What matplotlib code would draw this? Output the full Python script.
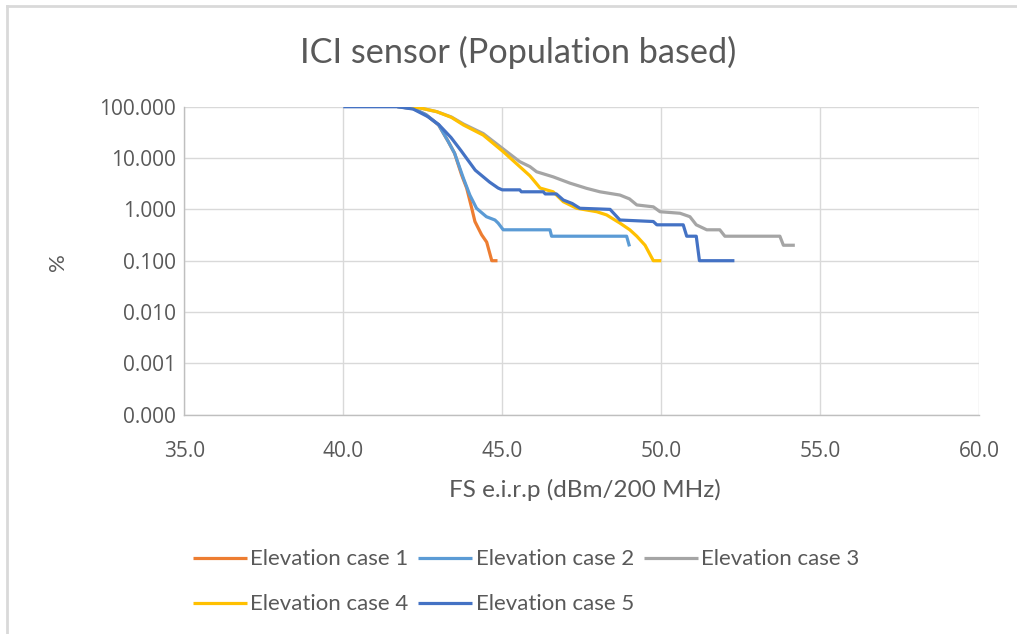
import matplotlib
matplotlib.use("Agg")
import matplotlib.pyplot as plt
from matplotlib.lines import Line2D
from matplotlib.ticker import FixedLocator, FuncFormatter

# Exceedance curves: FS e.i.r.p (dBm/200 MHz) vs percentage of population
case1_x = [41.7, 42.2, 42.6, 43.0, 43.3, 43.5, 43.72, 43.88, 44.04, 44.14, 44.35, 44.51, 44.67, 44.85]
case1_y = [100, 92, 70, 44, 21, 12.4, 4.7, 2.6, 1.05, 0.58, 0.32, 0.23, 0.10, 0.10]

case2_x = [41.7, 42.2, 42.6, 43.0, 43.3, 43.5, 43.78, 43.98, 44.19, 44.5, 44.77, 44.87, 45.03,
           46.5, 46.55, 48.91, 49.0]
case2_y = [100, 92, 70, 44, 21, 12.4, 4.0, 1.9, 1.05, 0.72, 0.62, 0.54, 0.40,
           0.40, 0.30, 0.30, 0.19]

case3_x = [41.9, 42.4, 42.94, 43.4, 43.78, 44.4, 45.14, 45.55, 45.87, 46.08, 46.6, 47.13, 47.65,
           48.07, 48.7, 49.0, 49.23, 49.75, 49.96, 50.59, 50.9, 51.1, 51.43, 51.84, 52.0,
           53.73, 53.84, 54.2]
case3_y = [100, 95, 80, 63, 46, 30, 13.3, 8.5, 6.8, 5.4, 4.3, 3.24, 2.57,
           2.2, 1.9, 1.6, 1.22, 1.12, 0.90, 0.84, 0.72, 0.50, 0.40, 0.40, 0.30,
           0.30, 0.20, 0.20]

case4_x = [41.9, 42.4, 42.94, 43.4, 43.78, 44.4, 45.03, 45.55, 45.87, 46.19, 46.6, 46.92, 47.34,
           47.97, 48.28, 48.7, 49.01, 49.23, 49.49, 49.75, 50.0]
case4_y = [100, 95, 80, 62, 44, 28, 13.3, 6.8, 4.5, 2.6, 2.2, 1.41, 1.05,
           0.90, 0.78, 0.54, 0.40, 0.30, 0.20, 0.10, 0.10]

case5_x = [40.0, 41.7, 42.2, 42.66, 43.0, 43.39, 43.7, 44.15, 44.6, 44.87, 45.0, 45.55, 45.6,
           46.29, 46.35, 46.7, 46.92, 47.2, 47.44, 48.39, 48.7, 49.75, 49.86, 50.69, 50.8,
           51.1, 51.2, 52.3]
case5_y = [100, 100, 90, 64, 45, 25, 14, 5.8, 3.4, 2.6, 2.4, 2.4, 2.2,
           2.2, 2.0, 2.0, 1.52, 1.3, 1.05, 1.0, 0.62, 0.58, 0.50, 0.50, 0.30,
           0.30, 0.10, 0.10]

series_names = ["Elevation case 1", "Elevation case 2", "Elevation case 3",
                "Elevation case 4", "Elevation case 5"]
series_colors = ["#ED7D31", "#5B9BD5", "#A5A5A5", "#FFC000", "#4472C4"]

y_ticks = [0.0001, 0.001, 0.01, 0.1, 1, 10, 100]
x_ticks = [35, 40, 45, 50, 55, 60]

text_color = "#595959"
grid_color = "#D9D9D9"

fig = plt.figure(figsize=(10.17, 6.34), dpi=100)
ax = fig.add_axes([0.1812, 0.3459, 0.7817, 0.4858])

series = [(case1_x, case1_y), (case2_x, case2_y), (case3_x, case3_y),
          (case4_x, case4_y), (case5_x, case5_y)]
handles = []
for (xs, ys), name, col in zip(series, series_names, series_colors):
    h, = ax.plot(xs, ys, color=col, lw=2.3, label=name, solid_capstyle="butt")
    handles.append(h)

ax.set_yscale("log")
ax.set_ylim(0.0001, 100)
ax.set_xlim(35, 60)
ax.yaxis.set_major_locator(FixedLocator(y_ticks))
ax.yaxis.set_minor_locator(FixedLocator([]))
ax.yaxis.set_major_formatter(FuncFormatter(lambda v, p: f"{v:.3f}"))
ax.xaxis.set_major_locator(FixedLocator(x_ticks))
ax.xaxis.set_major_formatter(FuncFormatter(lambda v, p: f"{v:.1f}"))

ax.grid(True, color=grid_color, lw=1.0)
ax.set_axisbelow(True)
for side in ("top", "right"):
    ax.spines[side].set_visible(False)
for side in ("left", "bottom"):
    ax.spines[side].set_color("#BFBFBF")
    ax.spines[side].set_linewidth(1.0)

ax.tick_params(length=0, colors=text_color, labelsize=15, pad=6)
for lab in ax.get_xticklabels() + ax.get_yticklabels():
    lab.set_family("Open Sans")
ax.tick_params(axis="x", pad=19)

fig.text(0.509, 0.918, "ICI sensor (Population based)", ha="center", va="center",
         fontsize=24.7, color=text_color, family="Lato")
fig.text(0.575, 0.227, "FS e.i.r.p (dBm/200 MHz)", ha="center", va="center",
         fontsize=17.5, color=text_color, family="Lato")
fig.text(0.057, 0.587, "%", ha="center", va="center", rotation=90,
         fontsize=16, color=text_color, family="Lato")

# Row-wise legend order for a 3-column layout
order = [0, 3, 1, 4, 2]
leg = fig.legend([handles[i] for i in order], [series_names[i] for i in order],
                 ncol=3, loc="upper left", bbox_to_anchor=(0.170, 0.165),
                 frameon=False, handlelength=2.43, handletextpad=0.15,
                 columnspacing=0.45, labelspacing=1.12,
                 prop={"family": "Lato", "size": 16})
for t in leg.get_texts():
    t.set_color(text_color)

# Outer chart frame (top and left edges)
fig.add_artist(Line2D([0.0069, 1.0], [1 - 6 / 634, 1 - 6 / 634], color=grid_color, lw=2,
                      transform=fig.transFigure))
fig.add_artist(Line2D([0.0069, 0.0069], [0.0, 1 - 6 / 634], color=grid_color, lw=2,
                      transform=fig.transFigure))

fig.savefig("out.png", dpi=100, facecolor="white")
